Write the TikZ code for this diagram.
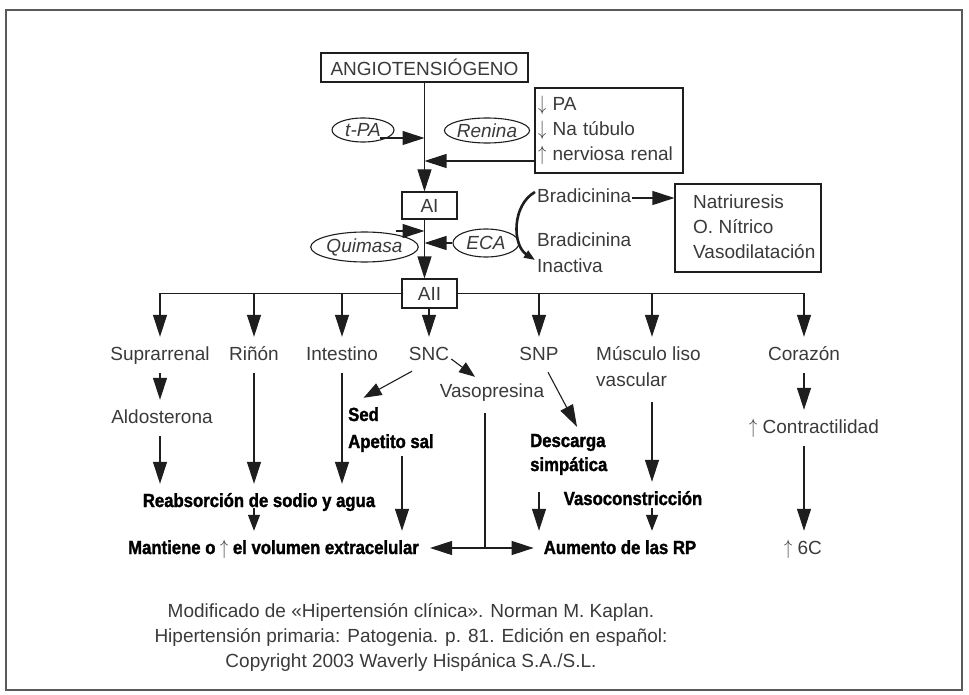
\documentclass[tikz,border=0pt]{standalone}
\usepackage{graphicx}
\usepackage{fontspec}
\setmainfont{Liberation Sans}
\newfontfamily\condbold[FakeStretch=0.88,BoldFeatures={FakeBold=1.6}]{Liberation Sans}
\usetikzlibrary{arrows.meta,shapes.geometric,calc}
\definecolor{ink}{HTML}{1E1E1E}
\definecolor{txt}{HTML}{3A3A3A}
\definecolor{framegray}{HTML}{5A5A5A}
% thin full-height arrows used inside the texts
\newcommand{\upar}{\scalebox{0.95}[1.2]{$\uparrow$}}
\newcommand{\dnar}{\scalebox{0.95}[1.2]{$\downarrow$}}
\begin{document}
\begin{tikzpicture}[x=1pt,y=-1pt,
  every node/.style={text=txt, font=\fontsize{19}{25}\selectfont},
  lbl/.style={inner xsep=1pt, inner ysep=9pt, text height=14pt, text depth=4pt},
  bld/.style={lbl, text=black, font=\fontsize{19}{25}\selectfont\condbold\bfseries},
  bx/.style={draw=ink, line width=1.1pt, fill=white, inner sep=0pt},
  ell/.style={draw=ink, line width=1.1pt, ellipse, inner sep=0pt,
              font=\fontsize{19}{25}\selectfont\itshape},
  ln/.style={draw=ink, line width=1.1pt},
  arr/.style={ln, -{Triangle[length=22pt,width=14pt]}},
  sarr/.style={ln, -{Triangle[length=16pt,width=12pt]}},
  marr/.style={ln, -{Triangle[length=18pt,width=13pt]}},
  curv/.style={draw=ink, line width=2.6pt, -{Triangle[length=11pt,width=8pt]}}
]
\useasboundingbox (0,0) rectangle (969,695);
\draw[framegray, line width=2pt] (6,10) rectangle (962,690);

% --- cascade: angiotensinogen -> AI -> AII
\node[bx, minimum width=207pt, minimum height=29pt] (angio) at (424.5,67.5) {ANGIOTENSIÓGENO};
\node[ell, minimum width=62pt, minimum height=24pt] (tpa) at (363,130) {t-PA};
\node[ell, minimum width=80pt, minimum height=25pt] (renina) at (487,130.5) {Renina};
\node[bx, minimum width=148pt, minimum height=85pt, text width=142pt, align=left, inner xsep=3pt]
  (pa) at (609,130.5) {\dnar\ PA\\\dnar\ Na túbulo\\\upar\ nerviosa renal};
\node[bx, minimum width=55pt, minimum height=27pt] (ai) at (429.5,205.5) {AI};
\node[ell, minimum width=89pt, minimum height=30pt] (quim) at (364.5,247) {Quimasa};
\node[ell, minimum width=66pt, minimum height=28pt] (eca) at (486,243) {ECA};
\node[bx, minimum width=55pt, minimum height=29pt] (aii) at (429.5,293.5) {AII};

% --- bradykinin branch
\node[lbl, anchor=west] (brad1) at (536,198) {Bradicinina};
\node[lbl, anchor=west] (brad2) at (536,241) {Bradicinina};
\node[lbl, anchor=west] (inact) at (536,267) {Inactiva};
\node[bx, minimum width=146pt, minimum height=88pt] (nat) at (748,228) {};
\node[align=left, anchor=west, inner sep=0pt] (nattxt) at (693,227) {Natriuresis\\O. Nítrico\\Vasodilatación};

% --- target organs
\node[lbl] (supra)  at (160,355) {Suprarrenal};
\node[lbl] (rinon)  at (254,355) {Riñón};
\node[lbl] (intest) at (342,355) {Intestino};
\node[lbl] (snc)    at (429,355) {SNC};
\node[lbl] (snp)    at (539,355) {SNP};
\node[lbl, anchor=west] (musc1) at (595,355) {Músculo liso};
\node[lbl, anchor=west] (musc2) at (595,381) {vascular};
\node[lbl] (coraz)  at (804,355) {Corazón};
\coordinate (cm) at (652,0);

% --- effects
\node[lbl] (aldo) at (162,418) {Aldosterona};
\node[lbl] (vaso) at (492,392) {Vasopresina};
\node[bld, anchor=west] (sed) at (347,416) {Sed};
\node[bld, anchor=west] (apetito) at (347,443) {Apetito sal};
\node[bld, anchor=west] (desc1) at (529,442) {Descarga};
\node[bld, anchor=west] (desc2) at (529,466) {simpática};
\node[lbl] (contract) at (814,428) {\upar\ Contractilidad};
\node[bld] (reab) at (259,502) {Reabsorción de sodio y agua};
\node[bld] (vasoc) at (633,500) {Vasoconstricción};
\node[bld] (mant) at (273.5,549) {Mantiene o {\color{txt}\upar} el volumen extracelular};
\node[bld] (aum) at (620,549) {Aumento de las RP};
\node[lbl] (sixc) at (803,549) {\upar\ 6C};
\coordinate (vj) at (485,548);

% --- caption
\node[align=center] (cap) at (411,637)
  {Modificado de «Hipertensión clínica». Norman M. Kaplan.\\
   Hipertensión primaria: Patogenia. p. 81. Edición en español:\\
   Copyright 2003 Waverly Hispánica S.A./S.L.};

% --- connectors: main axis
\draw[arr] (angio.south) -- (angio.south |- ai.north);
\draw[arr] ($(tpa.center)+(17,8)$) coordinate (tpas) -- (tpas -| angio.south);
\draw[arr] ($(pa.west)+(0,30.5)$) coordinate (pas) -- (pas -| angio.south);
\draw[arr] (ai.south -| angio.south) -- (angio.south |- aii.north);
\draw[arr] ($(quim.center)+(31,-16)$) coordinate (qs) -- (qs -| angio.south);
\draw[arr] (eca.west) -- (eca.west -| angio.south);

% --- connectors: bradykinin
\draw[arr] (brad1.east) -- (brad1.east -| nat.west);
\draw[curv] ($(brad1.west)+(-1,-6)$) .. controls +(-23,13) and +(-23,-15) .. ($(inact.west)+(-1,-7)$);

% --- connectors: AII to organs
\draw[arr] (aii.west) -| (supra.north);
\draw[arr] (aii.west -| rinon.north) -- (rinon.north);
\draw[arr] (aii.west -| intest.north) -- (intest.north);
\draw[arr] (aii.south -| snc.north) -- (snc.north);
\draw[arr] (aii.east) -| (coraz.north);
\draw[arr] (aii.east -| snp.north) -- (snp.north);
\draw[arr] (aii.east -| cm) -- (cm |- musc1.north);

% --- connectors: organs to effects
\draw[arr] (supra.south) -- (supra.south |- aldo.north);
\draw[arr] (aldo.south -| supra.south) -- (supra.south |- reab.north);
\draw[arr] (rinon.south) -- (rinon.south |- reab.north);
\draw[arr] (intest.south) -- (intest.south |- reab.north);
\draw[sarr] ($(reab.south -| rinon.south)+(0,-12)$) -- (rinon.south |- mant.north);
\draw[marr] ($(snc.south)+(-17,-2)$) -- (sed.north);
\draw[sarr] ($(snc.east)+(1,4)$) -- ($(vaso.north)+(-17,3)$);
\draw[arr] ($(apetito.south west)+(55,-5)$) coordinate (aps) -- (aps |- mant.north);
\draw[ln] ($(vaso.south -| vj)+(0,3)$) -- (vj);
\draw[arr, shorten >=10pt] (vj) -- (vj -| mant.east);
\draw[arr, shorten >=9pt] (vj) -- (vj -| aum.west);
\draw[arr] ($(snp.south)+(9,-1)$) -- ($(desc1.north west)+(48,3)$);
\draw[arr] ($(desc2.south west)+(10,8)$) coordinate (ds) -- (ds |- aum.north);
\draw[arr] ($(cm |- musc2.south)+(0,3)$) -- (cm |- vasoc.north);
\draw[sarr] ($(vasoc.south -| cm)+(0,-10)$) -- (cm |- aum.north);
\draw[arr] (coraz.south) -- (coraz.south |- contract.north);
\draw[arr] (contract.south -| coraz.south) -- (coraz.south |- sixc.north);
\end{tikzpicture}
\end{document}
